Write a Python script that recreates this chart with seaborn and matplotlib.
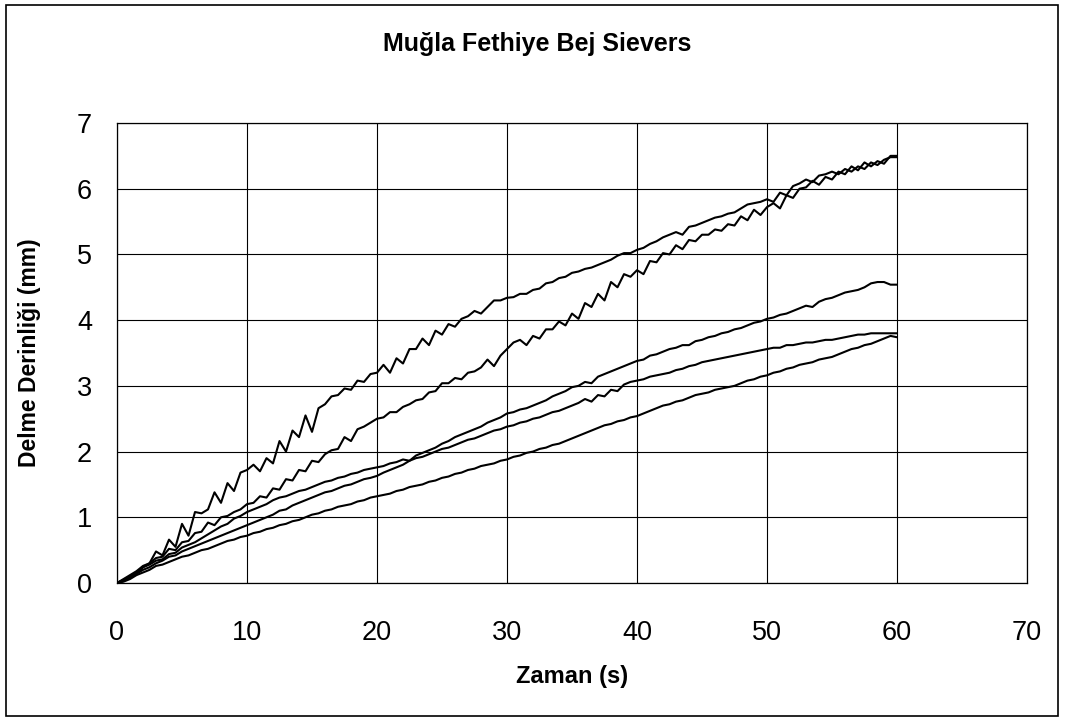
import numpy as np
import pandas as pd
import matplotlib
matplotlib.use("Agg")
import matplotlib.pyplot as plt
from matplotlib.patches import Rectangle
import seaborn as sns

# ---------------- data ----------------
zaman = np.arange(0, 60.5, 0.5)  # time grid (s), 0 ... 60

deney_1 = [
    0.00, 0.05, 0.10, 0.14, 0.24, 0.30, 0.48, 0.42, 0.66, 0.55,
    0.90, 0.72, 1.08, 1.06, 1.12, 1.38, 1.22, 1.52, 1.40, 1.68,
    1.72, 1.80, 1.70, 1.90, 1.82, 2.16, 2.00, 2.32, 2.22, 2.55,
    2.30, 2.66, 2.72, 2.84, 2.86, 2.96, 2.94, 3.08, 3.06, 3.18,
    3.20, 3.32, 3.20, 3.42, 3.34, 3.56, 3.56, 3.72, 3.62, 3.84,
    3.78, 3.94, 3.90, 4.02, 4.06, 4.14, 4.10, 4.20, 4.30, 4.30,
    4.34, 4.35, 4.40, 4.40, 4.46, 4.48, 4.56, 4.58, 4.64, 4.66,
    4.72, 4.74, 4.78, 4.80, 4.84, 4.88, 4.92, 4.98, 5.02, 5.02,
    5.07, 5.10, 5.16, 5.20, 5.26, 5.30, 5.34, 5.30, 5.42, 5.44,
    5.48, 5.52, 5.56, 5.58, 5.62, 5.64, 5.70, 5.76, 5.78, 5.80,
    5.84, 5.80, 5.94, 5.90, 6.04, 6.08, 6.14, 6.10, 6.20, 6.22,
    6.26, 6.22, 6.30, 6.26, 6.34, 6.30, 6.40, 6.36, 6.44, 6.48,
    6.48,
]
deney_2 = [
    0.00, 0.06, 0.12, 0.18, 0.26, 0.30, 0.38, 0.40, 0.52, 0.50,
    0.62, 0.64, 0.76, 0.78, 0.92, 0.88, 1.00, 1.02, 1.08, 1.12,
    1.20, 1.22, 1.32, 1.30, 1.44, 1.42, 1.58, 1.56, 1.72, 1.70,
    1.86, 1.84, 1.96, 2.02, 2.04, 2.22, 2.16, 2.34, 2.38, 2.44,
    2.50, 2.52, 2.60, 2.60, 2.68, 2.72, 2.78, 2.80, 2.90, 2.92,
    3.04, 3.04, 3.12, 3.10, 3.20, 3.22, 3.28, 3.40, 3.30, 3.46,
    3.56, 3.66, 3.70, 3.62, 3.76, 3.72, 3.86, 3.86, 3.98, 3.92,
    4.10, 4.02, 4.26, 4.20, 4.40, 4.30, 4.58, 4.50, 4.70, 4.66,
    4.76, 4.70, 4.90, 4.88, 5.02, 5.00, 5.14, 5.08, 5.22, 5.20,
    5.30, 5.30, 5.38, 5.36, 5.46, 5.44, 5.58, 5.52, 5.68, 5.60,
    5.72, 5.78, 5.70, 5.90, 5.86, 6.00, 6.02, 6.12, 6.06, 6.18,
    6.14, 6.26, 6.22, 6.34, 6.28, 6.40, 6.34, 6.42, 6.38, 6.50,
    6.50,
]
deney_3 = [
    0.00, 0.04, 0.10, 0.16, 0.24, 0.28, 0.34, 0.36, 0.44, 0.46,
    0.54, 0.58, 0.62, 0.68, 0.74, 0.80, 0.86, 0.90, 0.98, 1.02,
    1.08, 1.12, 1.16, 1.20, 1.26, 1.30, 1.32, 1.36, 1.40, 1.42,
    1.46, 1.50, 1.54, 1.56, 1.60, 1.62, 1.66, 1.68, 1.72, 1.74,
    1.76, 1.78, 1.82, 1.84, 1.88, 1.86, 1.94, 1.98, 2.02, 2.06,
    2.12, 2.16, 2.22, 2.26, 2.30, 2.34, 2.38, 2.44, 2.48, 2.52,
    2.58, 2.60, 2.64, 2.66, 2.70, 2.74, 2.78, 2.84, 2.88, 2.92,
    2.98, 3.00, 3.06, 3.04, 3.14, 3.18, 3.22, 3.26, 3.30, 3.34,
    3.38, 3.40, 3.46, 3.48, 3.52, 3.56, 3.58, 3.62, 3.62, 3.68,
    3.70, 3.74, 3.76, 3.80, 3.82, 3.86, 3.88, 3.92, 3.96, 3.98,
    4.02, 4.04, 4.08, 4.10, 4.14, 4.18, 4.22, 4.20, 4.28, 4.32,
    4.34, 4.38, 4.42, 4.44, 4.46, 4.50, 4.56, 4.58, 4.58, 4.54,
    4.54,
]
deney_4 = [
    0.00, 0.04, 0.08, 0.14, 0.20, 0.24, 0.30, 0.34, 0.40, 0.42,
    0.48, 0.52, 0.56, 0.60, 0.64, 0.68, 0.72, 0.76, 0.80, 0.84,
    0.88, 0.92, 0.96, 1.00, 1.04, 1.10, 1.12, 1.18, 1.22, 1.26,
    1.30, 1.34, 1.38, 1.40, 1.44, 1.48, 1.50, 1.54, 1.58, 1.60,
    1.63, 1.68, 1.72, 1.76, 1.80, 1.86, 1.90, 1.92, 1.96, 2.00,
    2.04, 2.06, 2.10, 2.14, 2.18, 2.20, 2.24, 2.28, 2.32, 2.34,
    2.38, 2.40, 2.44, 2.46, 2.50, 2.52, 2.56, 2.60, 2.62, 2.66,
    2.70, 2.74, 2.80, 2.76, 2.86, 2.84, 2.94, 2.92, 3.02, 3.06,
    3.08, 3.10, 3.14, 3.16, 3.18, 3.20, 3.24, 3.26, 3.30, 3.32,
    3.36, 3.38, 3.40, 3.42, 3.44, 3.46, 3.48, 3.50, 3.52, 3.54,
    3.56, 3.58, 3.58, 3.62, 3.62, 3.64, 3.66, 3.66, 3.68, 3.70,
    3.70, 3.72, 3.74, 3.76, 3.78, 3.78, 3.80, 3.80, 3.80, 3.80,
    3.80,
]
deney_5 = [
    0.00, 0.02, 0.06, 0.12, 0.16, 0.20, 0.26, 0.28, 0.32, 0.36,
    0.40, 0.42, 0.46, 0.50, 0.52, 0.56, 0.60, 0.64, 0.66, 0.70,
    0.72, 0.76, 0.78, 0.82, 0.84, 0.88, 0.90, 0.94, 0.96, 1.00,
    1.04, 1.06, 1.10, 1.12, 1.16, 1.18, 1.20, 1.24, 1.26, 1.30,
    1.32, 1.34, 1.36, 1.40, 1.42, 1.46, 1.48, 1.50, 1.54, 1.56,
    1.60, 1.62, 1.66, 1.68, 1.72, 1.74, 1.78, 1.80, 1.82, 1.86,
    1.88, 1.92, 1.94, 1.98, 2.00, 2.04, 2.06, 2.10, 2.12, 2.16,
    2.20, 2.24, 2.28, 2.32, 2.36, 2.40, 2.42, 2.46, 2.48, 2.52,
    2.54, 2.58, 2.62, 2.66, 2.70, 2.72, 2.76, 2.78, 2.82, 2.86,
    2.88, 2.90, 2.94, 2.96, 2.98, 3.00, 3.04, 3.08, 3.10, 3.14,
    3.16, 3.20, 3.22, 3.26, 3.28, 3.32, 3.34, 3.36, 3.40, 3.42,
    3.44, 3.48, 3.52, 3.56, 3.58, 3.62, 3.64, 3.68, 3.72, 3.76,
    3.74,
]

x_ticks = [0, 10, 20, 30, 40, 50, 60, 70]
y_ticks = [0, 1, 2, 3, 4, 5, 6, 7]
title = "Muğla Fethiye Bej Sievers"
x_label = "Zaman (s)"
y_label = "Delme Derinliği (mm)"

series = {"1": deney_1, "2": deney_2, "3": deney_3, "4": deney_4, "5": deney_5}
df = pd.concat(
    [pd.DataFrame({"t": zaman, "d": vals, "seri": name}) for name, vals in series.items()],
    ignore_index=True,
)

# ---------------- plotting ----------------
sns.set_theme(style="white")
plt.rcParams["font.family"] = ["Liberation Sans", "DejaVu Sans"]

fig = plt.figure(figsize=(10.65, 7.18), dpi=100)
ax = fig.add_axes([117 / 1065, 1 - 583 / 718, (1027 - 117) / 1065, (583 - 123) / 718])

sns.lineplot(
    data=df, x="t", y="d", hue="seri", estimator=None,
    palette=["black"] * 5, linewidth=1.5, legend=False, ax=ax, sort=False,
)

ax.set_xlim(0, 70)
ax.set_ylim(0, 7)
ax.set_xticks(x_ticks)
ax.set_yticks(y_ticks)
ax.set_xticklabels([str(v) for v in x_ticks])
ax.set_yticklabels([str(v) for v in y_ticks])
ax.grid(True, color="black", linewidth=0.8)
ax.set_axisbelow(True)
for sp in ax.spines.values():
    sp.set_color("black")
    sp.set_linewidth(0.9)
    sp.set_visible(True)

ax.tick_params(axis="both", which="major", direction="out", length=8, width=0.8,
               color="black", labelsize=19.5, labelcolor="black")
ax.tick_params(axis="x", pad=19)
ax.tick_params(axis="y", pad=10)

ax.set_xlabel(x_label, fontsize=17, fontweight="bold", color="black")
ax.set_ylabel(y_label, fontsize=16.5, fontweight="bold", color="black")
ax.xaxis.set_label_coords((572 - 117) / 910, -(676 - 583) / 460)
ax.xaxis.label.set_va("center")
ax.yaxis.set_label_coords(-(117 - 30) / 910, 0.5)
ax.yaxis.label.set_va("center")

fig.text(537 / 1065, 1 - 44 / 718, title, ha="center", va="center",
         fontsize=18, fontweight="bold", color="black")

fig.patches.append(Rectangle((6 / 1065, 2 / 718), (1058 - 6) / 1065, (713 - 2) / 718,
                             transform=fig.transFigure, fill=False,
                             edgecolor="black", linewidth=1.2))

fig.savefig("out.png", dpi=100, facecolor="white")
